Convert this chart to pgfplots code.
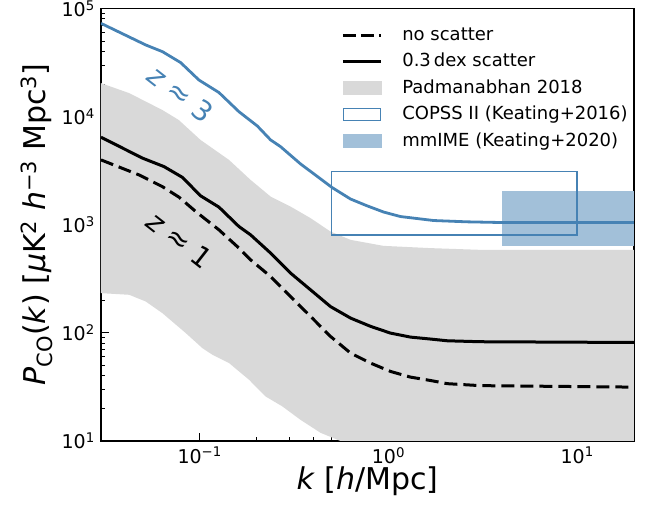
\documentclass[border=0pt]{standalone}
\usepackage{fontspec}
\setmainfont{DejaVu Sans}
\usepackage{pgfplots}
\pgfplotsset{compat=1.18}
\definecolor{steelblue}{RGB}{70,130,180}
\definecolor{bandgray}{RGB}{217,217,217}
\definecolor{mmime}{RGB}{162,192,217}
\newcommand\sups[1]{\textsuperscript{#1}}
\begin{document}
\begin{tikzpicture}
\begin{axis}[
  xmode=log, ymode=log,
  scale only axis, width=533pt, height=432.5pt,
  xmin=0.03, xmax=20, ymin=10, ymax=1e5,
  axis line style={line width=1.2pt},
  tick align=inside, xtick pos=bottom, ytick pos=left,
  major tick length=8pt, minor tick length=4pt,
  every tick/.style={black, line width=1pt},
  xtick={0.1,1,10}, xticklabels={10\sups{−1},10\sups{0},10\sups{1}},
  ytick={10,100,1000,10000,100000},
  yticklabels={10\sups{1},10\sups{2},10\sups{3},10\sups{4},10\sups{5}},
  tick label style={font=\fontsize{19}{22}\selectfont},
  xticklabel style={inner sep=0pt, yshift=-6pt},
  yticklabel style={inner sep=0pt, xshift=-6pt},
  xlabel={\textit{k} [\textit{h}/Mpc]},
  ylabel={\textit{P}\textsubscript{CO}(\textit{k}) [\textit{μ}K\textsuperscript{2} \textit{h}\textsuperscript{−3} Mpc\textsuperscript{3}]},
  label style={font=\fontsize{30}{34}\selectfont},
  xlabel style={at={(axis description cs:0.5,-0.1133)}, anchor=base},
  ylabel style={at={(axis description cs:-0.105,0.5)}, anchor=base, rotate=0},
  legend style={draw=none, fill=none, at={(rel axis cs:0.4505,0.9646)}, anchor=north west,
    font=\fontsize{18}{22}\selectfont, inner sep=0pt, row sep=4.5pt, column sep=18pt,
    nodes={text height=14pt, text depth=4pt, inner sep=2pt}},
  legend cell align=left,
]
% Padmanabhan 2018 band
\addplot[fill=bandgray, draw=none, forget plot] coordinates {
(0.03,20400) (0.0423,16500) (0.0635,11500) (0.0774,9320) (0.101,6090) (0.143,3980)
(0.186,2600) (0.2375,1823) (0.303,1473) (0.3867,1151) (0.4933,865) (0.630,725)
(0.94,638) (1.667,608) (3.07,586) (20,586)
(20,7) (0.8,8) (0.557,10) (0.437,11.9) (0.342,15.7) (0.274,20.9) (0.2235,25.8)
(0.1824,36.9) (0.143,52.6) (0.1167,62.8) (0.1033,72.3) (0.0844,99.5) (0.0635,152)
(0.0518,195) (0.0423,225) (0.03,233)
} -- cycle;
% mmIME box
\addplot[fill=mmime, draw=none, forget plot] coordinates {
(4,640) (30,640) (30,2030) (4,2030)} -- cycle;
% COPSS II box
\addplot[draw=steelblue, fill=none, line width=1.5pt, mark=none, forget plot] coordinates {
(0.5,800) (10,800) (10,3100) (0.5,3100)} -- cycle;
% no scatter (z~1)
\addplot[black, line width=3pt, dash pattern=on 13pt off 6pt, forget plot] coordinates {
(0.03,3980) (0.0477,2890) (0.0635,2250) (0.0777,1800) (0.0953,1325) (0.1265,897)
(0.1615,608) (0.186,474) (0.2375,332) (0.303,217) (0.3867,142) (0.4933,92.7)
(0.630,65.0) (0.803,52.6) (1.025,44.0) (1.307,39.0) (1.667,36.3) (2.05,33.9)
(3.07,32.5) (20,31.5)};
% 0.3 dex scatter (z~1)
\addplot[black, line width=3pt, forget plot] coordinates {
(0.03,6450) (0.0498,4130) (0.0647,3450) (0.0808,2750) (0.1012,1850) (0.1265,1455)
(0.1615,962) (0.186,807) (0.2375,547) (0.303,357) (0.3867,250) (0.4933,175)
(0.630,137) (0.803,115) (1.025,99.5) (1.307,91.4) (1.667,87.7) (2.05,84.5)
(3.07,82.8) (20,81.5)};
% z~3
\addplot[steelblue, line width=2.8pt, forget plot] coordinates {
(0.03,72900) (0.0518,46000) (0.0635,39900) (0.0793,31600) (0.0991,21800) (0.1265,16700)
(0.1615,11100) (0.2019,8200) (0.2375,6090) (0.268,5280) (0.342,3656) (0.504,2203)
(0.630,1729) (0.771,1496) (0.944,1310) (1.157,1191) (1.737,1094) (2.61,1064)
(3.91,1049) (20,1047)};
\node[rotate=-38, text=steelblue, font=\fontsize{28}{30}\selectfont] at (axis cs:0.0793,16200) {\textit{z} ≈ 3};
\node[rotate=-38, text=black, font=\fontsize{28}{30}\selectfont] at (axis cs:0.0785,724) {\textit{z} ≈ 1};
\addlegendimage{legend image code/.code={\draw[black, line width=3pt, dash pattern=on 13pt off 5pt] (0pt,0pt)--(38pt,0pt);}}
\addlegendentry{no scatter}
\addlegendimage{legend image code/.code={\draw[black, line width=3pt] (0pt,0pt)--(38pt,0pt);}}
\addlegendentry{0.3\,dex scatter}
\addlegendimage{legend image code/.code={\fill[bandgray] (0pt,-6.5pt) rectangle (38pt,6.5pt);}}
\addlegendentry{Padmanabhan 2018}
\addlegendimage{legend image code/.code={\draw[steelblue, line width=1.2pt] (0.6pt,-5.9pt) rectangle (37.4pt,5.9pt);}}
\addlegendentry{COPSS II (Keating+2016)}
\addlegendimage{legend image code/.code={\fill[mmime] (0pt,-6.5pt) rectangle (38pt,6.5pt);}}
\addlegendentry{mmIME (Keating+2020)}
\end{axis}
\pgfresetboundingbox
\path ([shift={(-101pt,-66pt)}]current axis.south west) rectangle ([shift={(28pt,8.5pt)}]current axis.north east);
\end{tikzpicture}
\end{document}
